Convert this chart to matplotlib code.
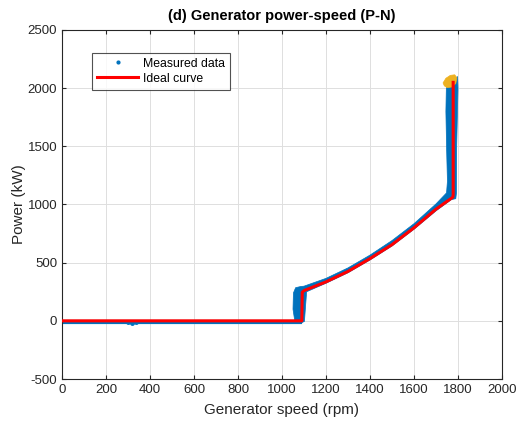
import matplotlib
matplotlib.use("Agg")
import matplotlib.pyplot as plt
from matplotlib.lines import Line2D

plt.rcParams['font.family'] = ['Liberation Sans', 'DejaVu Sans']
plt.rcParams['axes.unicode_minus'] = False

# Ideal curve (rpm, kW)
ideal_speed = [0, 1090, 1092, 1100, 1200, 1300, 1400, 1500, 1600, 1700, 1776, 1778, 1778]
ideal_power = [0, 0, 245, 260, 335, 425, 535, 655, 800, 960, 1062, 1080, 2050]

# Measured data band outline (rpm, kW)
band_speed = [1052, 1062, 1085, 1100, 1200, 1300, 1400, 1500, 1600, 1700, 1748, 1752,
              1748, 1745, 1747, 1760, 1798, 1800, 1794, 1793, 1790, 1770, 1700, 1600,
              1500, 1400, 1300, 1200, 1112, 1106, 1102, 1085, 1058, 1050]
band_power = [240, 285, 295, 298, 365, 455, 565, 690, 835, 1005, 1100, 1200,
              1500, 1800, 2000, 2040, 2100, 2000, 1500, 1100, 1050, 1042, 945, 787,
              643, 523, 413, 323, 250, 100, -5, -20, 0, 100]
# Measured data along zero-power line
zero_speed = [0, 1080]
zero_power = [-8, -8]
# Scattered low-speed points
low_speed = [300, 320, 335]
low_power = [-12, -18, -10]
# Rated-power cluster (orange)
rated_speed = [1732, 1745, 1765, 1785, 1795, 1790, 1772, 1750, 1738]
rated_power = [2045, 2085, 2110, 2115, 2090, 2040, 2010, 2005, 2020]

blue = '#0072BD'
orange = '#EDB120'

fig = plt.figure(figsize=(5.18, 4.23), dpi=100)
ax = fig.add_axes([62/518, 44/423, 440/518, 349/423])

ax.plot(zero_speed, zero_power, color=blue, lw=3, zorder=2)
ax.plot(low_speed, low_power, 'o', color=blue, ms=2.5, zorder=2)
ax.fill(band_speed, band_power, color=blue, lw=0.5, ec=blue, zorder=2)
ax.fill(rated_speed, rated_power, color=orange, lw=0.5, ec=orange, zorder=3)
ax.plot(ideal_speed, ideal_power, color='red', lw=2.2, zorder=4)

ax.set_xlim(0, 2000)
ax.set_ylim(-500, 2500)
ax.set_xticks(range(0, 2001, 200))
ax.set_yticks(range(-500, 2501, 500))
ax.grid(True, color='#dedede', lw=0.7)
ax.set_axisbelow(True)
ax.tick_params(direction='in', length=3, labelsize=9.5, colors='#262626', top=True, right=True)
for s in ax.spines.values():
    s.set_color('#262626')
    s.set_linewidth(0.8)

ax.set_xlabel('Generator speed (rpm)', fontsize=11, color='#262626', labelpad=5)
ax.set_ylabel('Power (kW)', fontsize=11, color='#262626', labelpad=1)
ax.set_title('(d) Generator power-speed (P-N)', fontsize=10.5, fontweight='bold', pad=7)

handles = [Line2D([], [], ls='none', marker='o', ms=2, color=blue),
           Line2D([], [], color='red', lw=2.2)]
leg = ax.legend(handles, ['Measured data', 'Ideal curve'], loc='upper left',
                bbox_to_anchor=(0.068, 0.935), fontsize=8.8, frameon=True, fancybox=False,
                edgecolor='#262626', borderpad=0.4, handlelength=3.4, handletextpad=0.4,
                labelspacing=0.25, borderaxespad=0)
leg.get_frame().set_linewidth(0.8)

fig.savefig('out.png', dpi=100)
